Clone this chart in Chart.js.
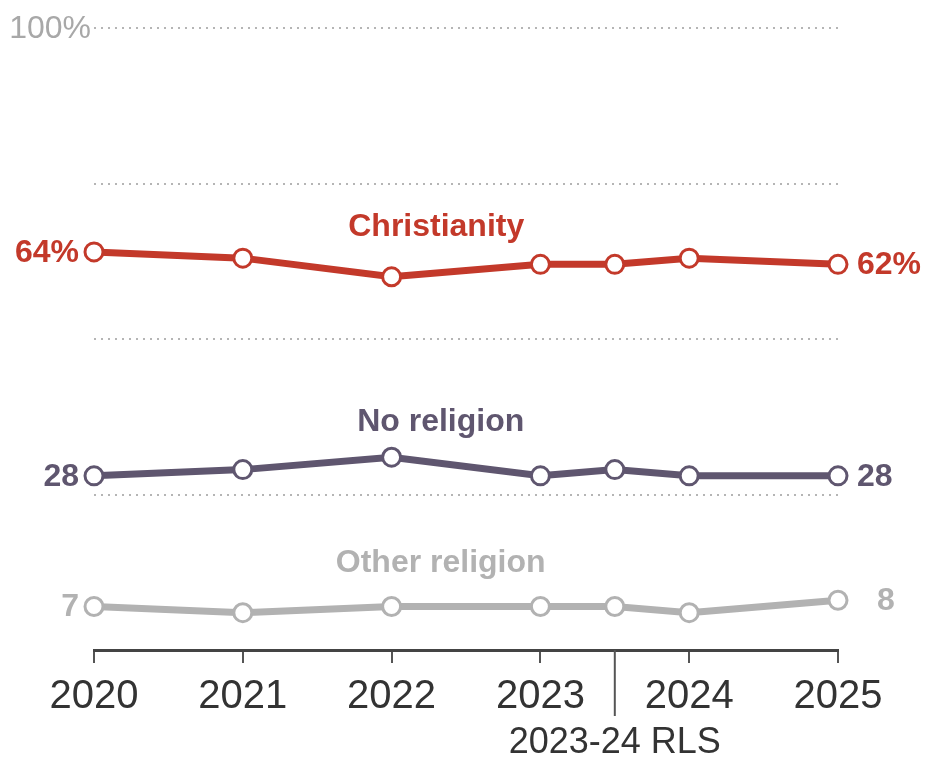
<!DOCTYPE html>
<html>
<head>
<meta charset="utf-8">
<script src="https://cdn.jsdelivr.net/npm/chart.js@4/dist/chart.umd.min.js"></script>
<style>
  html, body { margin: 0; padding: 0; background: #fff; }
  #wrap { width: 928px; height: 757px; position: relative; }
</style>
</head>
<body>
<div id="wrap"><canvas id="grafica"></canvas></div>
<script>
// Datos
const years = [2020, 2021, 2022, 2023, 2023.5, 2024, 2025];
const rlsYear = 2023.5;
const rlsLabel = '2023-24 RLS';
const christianity = [64, 63, 60, 62, 62, 63, 62];
const noReligion = [28, 29, 31, 28, 29, 28, 28];
const otherReligion = [7, 6, 7, 7, 7, 6, 8];
const yTicks = [0, 25, 50, 75, 100];

const series = [
  { name: 'Christianity', values: christianity, color: '#c3392a', first: '64%', last: '62%', lx: 2022.3, ly: 68 },
  { name: 'No religion', values: noReligion, color: '#5f566f', first: '28', last: '28', lx: 2022.33, ly: 36.6 },
  { name: 'Other religion', values: otherReligion, color: '#b2b2b2', first: '7', last: '8', lx: 2022.33, ly: 14 }
];

function toPoints(vals) {
  return vals.map((v, i) => ({ x: years[i], y: v }));
}

// Plugin para etiquetas de texto
const etiquetas = {
  id: 'etiquetas',
  afterDraw(chart) {
    const ctx = chart.ctx;
    const xs = chart.scales.x, ys = chart.scales.y;
    ctx.save();

    // 100%
    ctx.font = '32px "Liberation Sans", Arial, sans-serif';
    ctx.fillStyle = '#a8a8a8';
    ctx.textAlign = 'right';
    ctx.textBaseline = 'middle';
    ctx.fillText('100%', xs.left - 3, ys.getPixelForValue(100) + 1);

    // series
    series.forEach(s => {
      ctx.fillStyle = s.color;
      ctx.font = 'bold 32px "Liberation Sans", Arial, sans-serif';
      ctx.textBaseline = 'middle';
      const y0 = ys.getPixelForValue(s.values[0]);
      const yN = ys.getPixelForValue(s.values[s.values.length - 1]);
      ctx.textAlign = 'right';
      ctx.fillText(s.first, xs.getPixelForValue(years[0]) - 15, y0 + 1);
      ctx.textAlign = 'left';
      const extra = s.last === '8' ? 20 : 0;
      ctx.fillText(s.last, xs.getPixelForValue(years[years.length - 1]) + 19 + extra, yN + 1);

      ctx.font = 'bold 32px "Liberation Sans", Arial, sans-serif';
      ctx.textAlign = 'center';
      ctx.fillText(s.name, xs.getPixelForValue(s.lx), ys.getPixelForValue(s.ly));
    });

    // marca RLS
    const xr = xs.getPixelForValue(rlsYear);
    ctx.strokeStyle = '#555';
    ctx.lineWidth = 2;
    ctx.beginPath();
    ctx.moveTo(xr, xs.top);
    ctx.lineTo(xr, xs.top + 66);
    ctx.stroke();
    ctx.fillStyle = '#333';
    ctx.font = '36px "Liberation Sans", Arial, sans-serif';
    ctx.textAlign = 'center';
    ctx.textBaseline = 'middle';
    ctx.fillText(rlsLabel, xr, xs.top + 93);
    ctx.restore();
  }
};

const ctx = document.getElementById('grafica').getContext('2d');
new Chart(ctx, {
  type: 'line',
  data: {
    datasets: series.map(s => ({
      label: s.name,
      data: toPoints(s.values),
      borderColor: s.color,
      backgroundColor: '#fff',
      pointBackgroundColor: '#fff',
      pointBorderColor: s.color,
      pointBorderWidth: 3,
      pointRadius: 9,
      borderWidth: 7,
      tension: 0,
      clip: false
    }))
  },
  options: {
    responsive: true,
    maintainAspectRatio: false,
    animation: false,
    layout: { padding: { left: 94, right: 90, top: 28, bottom: 0 } },
    plugins: { legend: { display: false }, tooltip: { enabled: false } },
    scales: {
      x: {
        type: 'linear',
        min: 2020,
        max: 2025,
        afterBuildTicks: sc => { sc.ticks = [2020, 2021, 2022, 2023, 2024, 2025].map(v => ({ value: v })); },
        afterFit: sc => { sc.height = 107; },
        ticks: {
          callback: v => String(v),
          color: '#333',
          padding: 10,
          maxRotation: 0,
          font: { size: 40, family: '"Liberation Sans", Arial, sans-serif' }
        },
        grid: { drawOnChartArea: false, drawTicks: true, tickLength: 13, color: '#555', lineWidth: 2 },
        border: { display: true, color: '#444', width: 3 }
      },
      y: {
        min: 0,
        max: 100,
        afterBuildTicks: sc => { sc.ticks = yTicks.map(v => ({ value: v })); },
        afterFit: sc => { sc.width = 0; },
        ticks: { display: false },
        grid: {
          drawTicks: false,
          color: c => (c.tick && c.tick.value === 0) ? 'rgba(0,0,0,0)' : '#b5b5b5',
          lineWidth: 2
        },
        border: { display: false, dash: [2, 5] }
      }
    }
  },
  plugins: [etiquetas]
});
</script>
</body>
</html>
